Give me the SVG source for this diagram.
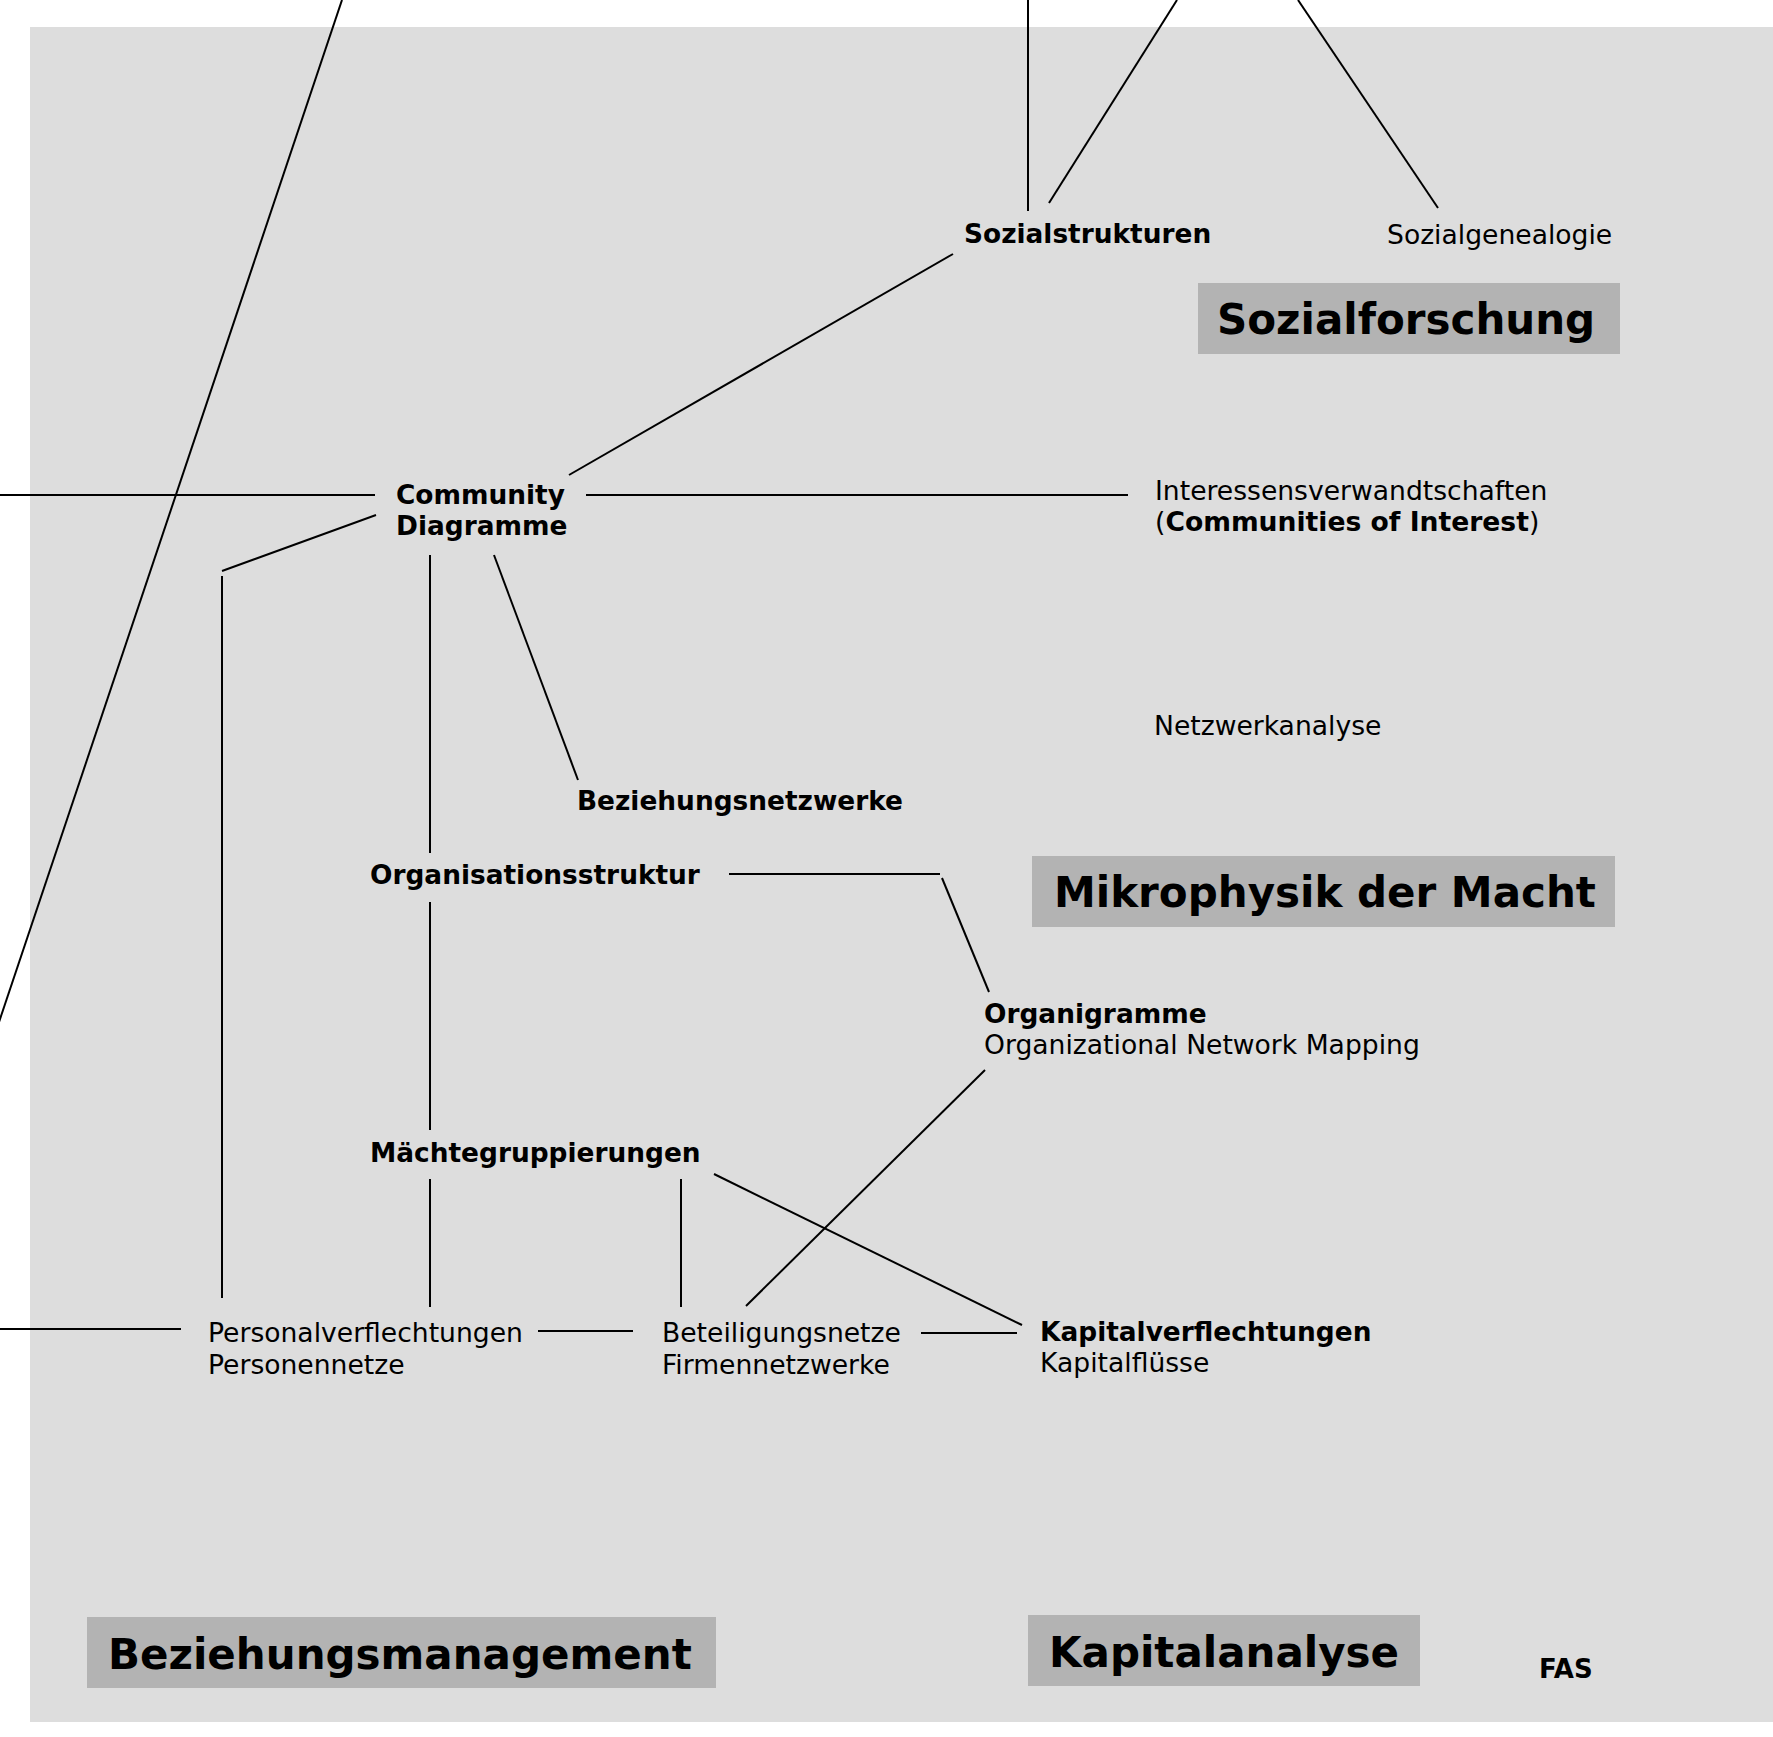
<svg xmlns="http://www.w3.org/2000/svg" width="1773" height="1737" viewBox="0 0 1773 1737">
<style>
text{font-family:"DejaVu Sans","Verdana",sans-serif;font-size:26.6px;fill:#000}
.b{font-weight:bold;font-size:26.4px}
text .b{font-size:26.6px}
.h{font-weight:bold;font-size:42px}
.hb{fill:#b3b3b3}
.c line{stroke:#000;stroke-width:2;stroke-linecap:butt}
</style>
<rect x="0" y="0" width="1773" height="1737" fill="#ffffff"/>
<rect x="30" y="27" width="1743" height="1695" fill="#dddddd"/>
<g class="c" id="connectors">
<line x1="342" y1="0" x2="-2" y2="1025"/>
<line x1="1028" y1="0" x2="1028" y2="211"/>
<line x1="1177" y1="0" x2="1049" y2="203"/>
<line x1="1298" y1="0" x2="1438" y2="208"/>
<line x1="953" y1="254" x2="569" y2="475"/>
<line x1="0" y1="495" x2="375" y2="495"/>
<line x1="586" y1="495" x2="1128" y2="495"/>
<line x1="376" y1="515" x2="222" y2="571"/>
<line x1="222" y1="576" x2="222" y2="1298"/>
<line x1="430" y1="555" x2="430" y2="853"/>
<line x1="494" y1="555" x2="578" y2="780"/>
<line x1="430" y1="902" x2="430" y2="1130"/>
<line x1="729" y1="874" x2="940" y2="874"/>
<line x1="942" y1="878" x2="989" y2="992"/>
<line x1="430" y1="1179" x2="430" y2="1307"/>
<line x1="681" y1="1179" x2="681" y2="1307"/>
<line x1="714" y1="1174" x2="1022" y2="1325"/>
<line x1="985" y1="1070" x2="746" y2="1306"/>
<line x1="0" y1="1329" x2="181" y2="1329"/>
<line x1="538" y1="1331" x2="633" y2="1331"/>
<line x1="921" y1="1333" x2="1017" y2="1333"/>
</g>
<g id="sozialstrukturen"><text class="b" x="964" y="243">Sozialstrukturen</text></g>
<g id="sozialgenealogie"><text x="1387" y="244">Sozialgenealogie</text></g>
<g id="sozialforschung"><rect class="hb" x="1198" y="283" width="422" height="71"/><text class="h" x="1217" y="334">Sozialforschung</text></g>
<g id="community"><text class="b" x="396" y="504">Community</text><text class="b" x="396" y="535">Diagramme</text></g>
<g id="interessen"><text x="1155" y="500">Interessensverwandtschaften</text><text x="1155" y="531">(<tspan class="b">Communities of Interest</tspan>)</text></g>
<g id="netzwerkanalyse"><text x="1154" y="735">Netzwerkanalyse</text></g>
<g id="beziehungsnetzwerke"><text class="b" x="577" y="810">Beziehungsnetzwerke</text></g>
<g id="organisationsstruktur"><text class="b" x="370" y="884">Organisationsstruktur</text></g>
<g id="mikrophysik"><rect class="hb" x="1032" y="856" width="583" height="71"/><text class="h" x="1054" y="907">Mikrophysik der Macht</text></g>
<g id="organigramme"><text class="b" x="984" y="1023">Organigramme</text><text x="984" y="1054">Organizational Network Mapping</text></g>
<g id="maechte"><text class="b" x="370" y="1162">Mächtegruppierungen</text></g>
<g id="personal"><text x="208" y="1342">Personalverflechtungen</text><text x="208" y="1374">Personennetze</text></g>
<g id="beteiligung"><text x="662" y="1342">Beteiligungsnetze</text><text x="662" y="1374">Firmennetzwerke</text></g>
<g id="kapital"><text class="b" x="1040" y="1341">Kapitalverflechtungen</text><text x="1040" y="1372">Kapitalflüsse</text></g>
<g id="beziehungsmanagement"><rect class="hb" x="87" y="1617" width="629" height="71"/><text class="h" x="108" y="1669">Beziehungsmanagement</text></g>
<g id="kapitalanalyse"><rect class="hb" x="1028" y="1615" width="392" height="71"/><text class="h" x="1049" y="1667">Kapitalanalyse</text></g>
<g id="fas"><text class="b" x="1539" y="1678" style="font-size:26px">FAS</text></g>
</svg>
